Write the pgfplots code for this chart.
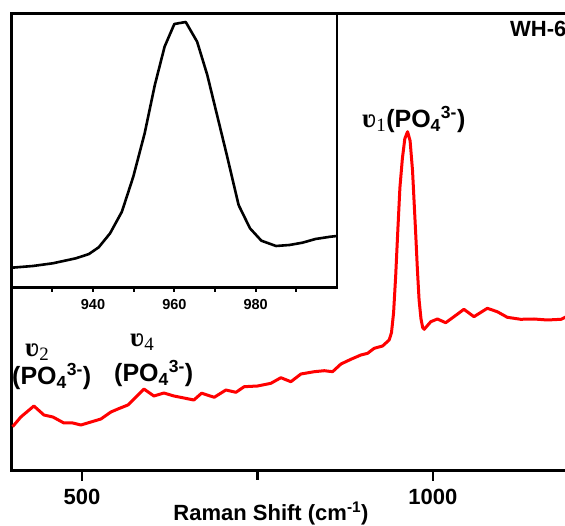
\documentclass[border=0pt]{standalone}
\usepackage{pgfplots}
\pgfplotsset{compat=1.18}
\usepackage{fontspec}
\setmainfont{Liberation Sans}
\newfontfamily\serifgr{Liberation Serif}
\begin{document}
\begin{tikzpicture}
\useasboundingbox (0,0) rectangle (565pt,525pt);
\clip (0,0) rectangle (565pt,525pt);
\begin{axis}[
  at={(11.7pt,54.3pt)}, anchor=south west,
  scale only axis, width=561.6pt, height=457.2pt,
  xmin=400, xmax=1200, ymin=0, ymax=457.2,
  axis line style={line width=2.6pt},
  xtick={500,1000}, minor xtick={750}, ytick=\empty,
  xtick pos=bottom, tick align=outside,
  major tick length=10pt, minor tick length=9pt,
  every tick/.style={line width=2.4pt, black},
  /pgf/number format/assume math mode=true,
  /pgf/number format/set thousands separator={},
  xticklabel style={font=\fontsize{22}{24}\selectfont\bfseries, yshift=-5pt},
  clip=false,
]
\addplot[red, line width=3pt, line join=round] coordinates {
(401.3,44) (413,53.7) (431.6,64.7) (445.9,55.7) (458.7,53.7) (474.4,47.7)
(487.2,47.7) (498.6,45.7) (512.8,48.7) (527.1,51.7) (541.3,58.7) (551.3,61.7)
(565.5,65.7) (576.9,73.7) (588.3,81.7) (602.6,74.7) (616.8,77.7) (631.1,74.7)
(645.3,72.7) (659.5,70.7) (670.5,77.5) (688.5,73.4) (705.1,80.7) (719.4,78.4)
(731.2,84) (750.2,84.7) (769.2,87.4) (783.5,93) (797.7,89) (812,96.7)
(830.9,99) (845.2,100) (857.1,99) (869,106.7) (883.2,111.4) (897.4,115.7)
(907,117.4) (916.4,122.4) (928.3,124.7) (937.7,130.7) (941,138) (944,158)
(947,195) (950,240) (953,283) (956.5,312) (960,332) (963.9,339)
(967.5,330) (971,300) (975.5,237) (978,200) (980.3,171) (983,152)
(985.5,143) (987.6,141.4) (997,149) (1006.4,151.7) (1018.2,148) (1030,154)
(1044.2,161.4) (1058.5,154) (1077.5,162.4) (1091.7,159) (1106,153.4) (1125,151.4)
(1144,151.7) (1163,150.7) (1182.6,151.4) (1190,154) (1200,153)
};
\end{axis}
\begin{axis}[
  at={(11.7pt,237.3pt)}, anchor=south west,
  scale only axis, width=325.3pt, height=274.2pt,
  xmin=920, xmax=1000, ymin=0, ymax=274.2,
  axis background/.style={fill=white},
  axis line style={line width=2.4pt},
  xtick={940,960,980}, minor xtick={930,950,970,990}, ytick=\empty,
  xtick pos=bottom, tick align=outside,
  major tick length=4pt, minor tick length=4pt,
  every tick/.style={line width=2pt, black},
  /pgf/number format/assume math mode=true,
  xticklabel style={font=\fontsize{14.5}{16}\selectfont\bfseries, yshift=-4pt},
]
\addplot[black, line width=2.6pt, line join=round] coordinates {
(920,20) (925.2,21.7) (930.1,24.4) (935.8,29.4) (939,33.7) (941.4,40.4)
(944.2,54.4) (947.1,76) (949.9,111) (952.7,154.4) (955.2,202.7) (957.6,241)
(960,263.7) (962.8,265.7) (965.6,246) (968.1,212.7) (970.5,172.7) (972.9,132.7)
(975.8,82.7) (978.6,59.4) (981.4,47) (985,41.7) (988.3,42.7) (991.5,45)
(994.7,48.7) (998.4,51) (1000,51.7)
};
\end{axis}
\node[anchor=base west, inner sep=0pt, font=\fontsize{25}{27}\selectfont\bfseries] at (362pt,397pt)
  {{\serifgr\fontsize{27}{28}\selectfont ʋ\textsubscript{\mdseries 1}}(PO\textsubscript{4}\textsuperscript{3-})};
\node[anchor=base west, inner sep=0pt, font=\fontsize{27}{28}\selectfont\bfseries\serifgr] at (25pt,168pt)
  {ʋ\textsubscript{\mdseries 2}};
\node[anchor=base west, inner sep=0pt, font=\fontsize{25}{27}\selectfont\bfseries] at (12pt,140pt)
  {(PO\textsubscript{4}\textsuperscript{3-})};
\node[anchor=base west, inner sep=0pt, font=\fontsize{27}{28}\selectfont\bfseries\serifgr] at (130pt,178pt)
  {ʋ\textsubscript{\mdseries 4}};
\node[anchor=base west, inner sep=0pt, font=\fontsize{25}{27}\selectfont\bfseries] at (114pt,143pt)
  {(PO\textsubscript{4}\textsuperscript{3-})};
\node[anchor=base west, inner sep=0pt, font=\fontsize{22}{24}\selectfont\bfseries] at (510pt,488pt) {WH-6};
\node[anchor=base, inner sep=0pt, font=\fontsize{22}{24}\selectfont\bfseries] at (271pt,4.5pt) {Raman Shift (cm\textsuperscript{-1})};
\end{tikzpicture}
\end{document}
